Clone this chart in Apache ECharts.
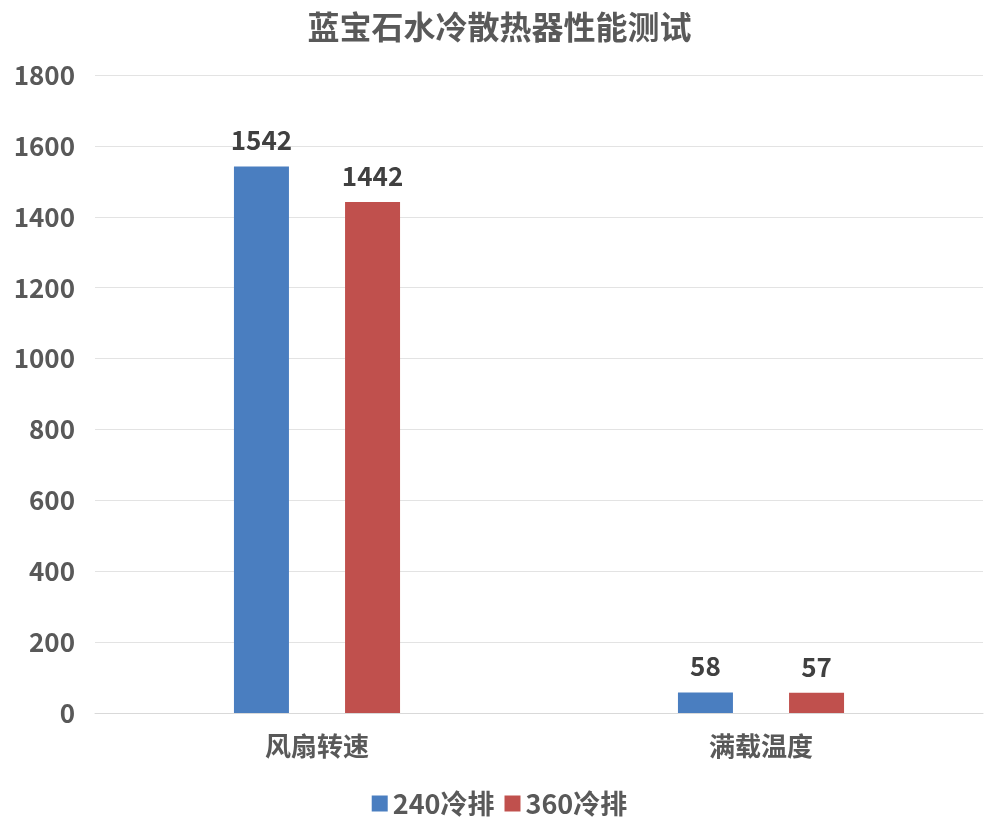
<!DOCTYPE html>
<html><head><meta charset="utf-8">
<script src="https://cdn.jsdelivr.net/npm/echarts@6/dist/echarts.min.js"></script>
<style>html,body{margin:0;padding:0;background:#fff}#c{width:999px;height:840px}</style>
</head><body><div id="c"></div>
<script>
const categories = ['风扇转速', '满载温度'];
const series240 = [1542, 58];
const series360 = [1442, 57];
const seriesNames = ['240冷排', '360冷排'];
const FONT = '"Noto Sans CJK SC", "Noto Sans", sans-serif';
const chart = echarts.init(document.getElementById('c'));
chart.setOption({
  backgroundColor: '#fff',
  animation: false,
  title: {
    text: '蓝宝石水冷散热器性能测试', left: 'center', top: 6,
    textStyle: { fontFamily: FONT, fontSize: 32, fontWeight: 'bold', color: '#595959' }
  },
  legend: {
    data: seriesNames, bottom: 18, left: 'center', itemWidth: 16, itemHeight: 16, itemGap: 10,
    icon: 'rect',
    textStyle: { fontFamily: FONT, fontSize: 27, fontWeight: 'bold', color: '#595959' }
  },
  grid: { left: 95, right: 16, top: 75, bottom: 127, containLabel: false },
  xAxis: {
    type: 'category', data: categories,
    axisLine: { lineStyle: { color: '#d9d9d9' } },
    axisTick: { show: false },
    axisLabel: { fontFamily: FONT, fontSize: 26, fontWeight: 'bold', color: '#595959', margin: 20 }
  },
  yAxis: {
    type: 'value', min: 0, max: 1800, interval: 200,
    axisLine: { show: false }, axisTick: { show: false },
    splitLine: { lineStyle: { color: '#e3e3e3' } },
    axisLabel: { fontFamily: FONT, fontSize: 26, fontWeight: 'bold', color: '#595959', margin: 20,
      formatter: v => String(v) }
  },
  series: [
    { name: seriesNames[0], type: 'bar', data: series240, barWidth: 55, barGap: '102%',
      itemStyle: { color: '#4A7EC0' },
      label: { show: true, position: 'top', distance: 13, fontFamily: FONT, fontSize: 26, fontWeight: 'bold', color: '#404040' } },
    { name: seriesNames[1], type: 'bar', data: series360, barWidth: 55,
      itemStyle: { color: '#C0504D' },
      label: { show: true, position: 'top', distance: 13, fontFamily: FONT, fontSize: 26, fontWeight: 'bold', color: '#404040' } }
  ]
});
</script></body></html>
